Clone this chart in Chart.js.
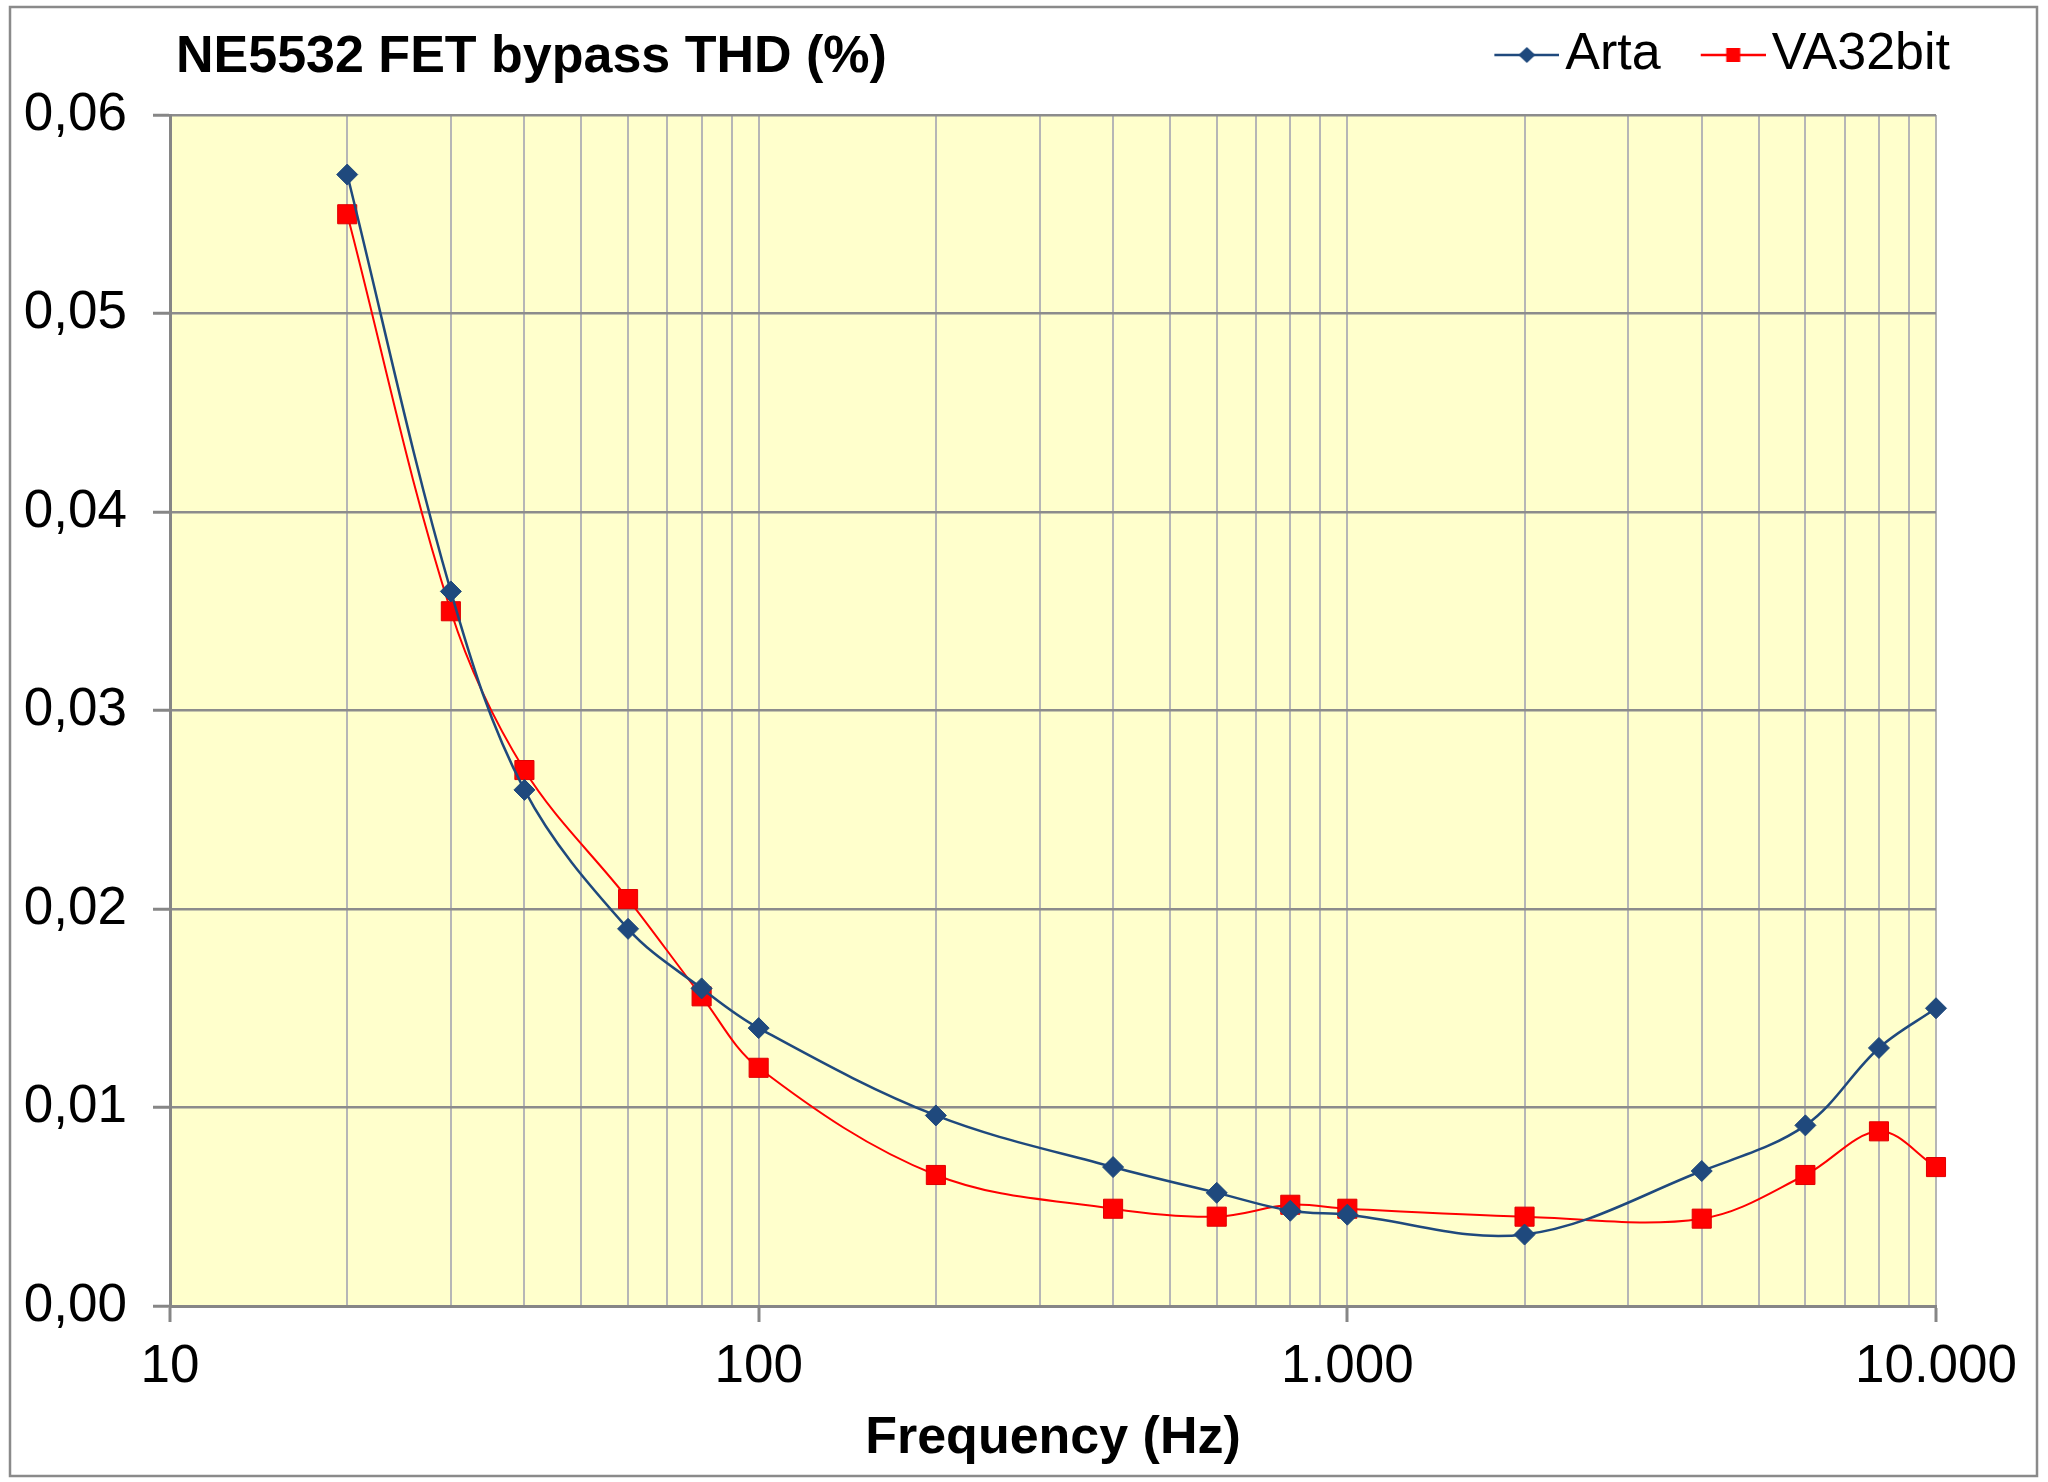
<!DOCTYPE html>
<html>
<head>
<meta charset="utf-8">
<script src="https://cdn.jsdelivr.net/npm/chart.js@4/dist/chart.umd.min.js"></script>
<style>
  html, body { margin: 0; padding: 0; background: #ffffff; }
  #wrap { width: 2048px; height: 1482px; }
  canvas { display: block; }
</style>
</head>
<body>
<div id="wrap"><canvas id="c" width="2048" height="1482"></canvas></div>
<script>
// ---- data ----
const chartTitle = 'NE5532 FET bypass THD (%)';
const xAxisTitle = 'Frequency (Hz)';
const frequencies = [20, 30, 40, 60, 80, 100, 200, 400, 600, 800, 1000, 2000, 4000, 6000, 8000, 10000];
const artaValues = [0.057, 0.036, 0.026, 0.019, 0.016, 0.014, 0.0096, 0.0070, 0.0057, 0.0048, 0.0046, 0.0036, 0.0068, 0.0091, 0.0130, 0.0150];
const va32Values = [0.055, 0.035, 0.027, 0.0205, 0.0156, 0.0120, 0.0066, 0.0049, 0.0045, 0.0051, 0.0049, 0.0045, 0.0044, 0.0066, 0.0088, 0.0070];
const seriesNames = ['Arta', 'VA32bit'];
const xTickValues = [10, 100, 1000, 10000];
const xTickLabels = ['10', '100', '1.000', '10.000'];
const xGridValues = [10, 20, 30, 40, 50, 60, 70, 80, 90,
                     100, 200, 300, 400, 500, 600, 700, 800, 900,
                     1000, 2000, 3000, 4000, 5000, 6000, 7000, 8000, 9000, 10000];
const yTickValues = [0, 0.01, 0.02, 0.03, 0.04, 0.05, 0.06];
const yTickLabels = ['0,00', '0,01', '0,02', '0,03', '0,04', '0,05', '0,06'];

// ---- styles ----
const FONT = "'Liberation Sans', Arial, sans-serif";
const ARTA_COLOR = '#1F497D';
const VA_COLOR = '#FF0000';
const PLOT_BG = '#FFFFCC';
const LEGEND_SIZE = 52;

function legendIcon(kind, color) {
  const c = document.createElement('canvas');
  c.width = 85; c.height = 24;
  const g = c.getContext('2d');
  g.strokeStyle = color; g.lineWidth = 2.5;
  g.beginPath(); g.moveTo(20, 12); g.lineTo(85, 12); g.stroke();
  g.fillStyle = color;
  const cx = 52.5, cy = 12;
  g.beginPath();
  if (kind === 'diamond') {
    g.moveTo(cx - 8.5, cy); g.lineTo(cx, cy - 8); g.lineTo(cx + 8.5, cy); g.lineTo(cx, cy + 8); g.closePath();
  } else {
    g.rect(cx - 7, cy - 7, 14, 14);
  }
  g.fill();
  return c;
}
const legendIcons = [legendIcon('diamond', ARTA_COLOR), legendIcon('square', VA_COLOR)];

const framePlugin = {
  id: 'frame',
  beforeDraw(chart) {
    const ctx = chart.ctx, a = chart.chartArea;
    ctx.save();
    ctx.fillStyle = '#ffffff';
    ctx.fillRect(0, 0, chart.width, chart.height);
    ctx.strokeStyle = '#8a8a8a';
    ctx.lineWidth = 2.5;
    ctx.strokeRect(10, 7, 2027, 1469);
    ctx.fillStyle = PLOT_BG;
    ctx.fillRect(a.left, a.top, a.right - a.left, a.bottom - a.top);
    ctx.restore();
  },
  afterLayout(chart) {
    const lg = chart.legend;
    if (lg) {
      lg.top -= 24; lg.bottom -= 24;
      lg.left += 54; lg.right += 54;
    }
  },
  afterDraw(chart) {
    const ctx = chart.ctx;
    ctx.save();
    ctx.font = 'bold 52px ' + FONT;
    ctx.fillStyle = '#000000';
    ctx.textBaseline = 'middle';
    ctx.textAlign = 'left';
    ctx.fillText(chartTitle, 176, 58);
    ctx.restore();
  }
};

const chart = new Chart(document.getElementById('c'), {
  type: 'line',
  data: {
    datasets: [
      {
        label: seriesNames[0],
        data: frequencies.map((f, i) => ({x: f, y: artaValues[i]})),
        borderColor: ARTA_COLOR,
        backgroundColor: ARTA_COLOR,
        borderWidth: 2.5,
        tension: 0.35,
        pointStyle: 'rectRot',
        pointRadius: 10.5,
        pointBackgroundColor: ARTA_COLOR,
        pointBorderColor: ARTA_COLOR,
        pointBorderWidth: 1,
        clip: false
      },
      {
        label: seriesNames[1],
        data: frequencies.map((f, i) => ({x: f, y: va32Values[i]})),
        borderColor: VA_COLOR,
        backgroundColor: VA_COLOR,
        borderWidth: 2,
        tension: 0.35,
        pointStyle: 'rect',
        pointRadius: 13.5,
        pointBackgroundColor: VA_COLOR,
        pointBorderColor: '#E00000',
        pointBorderWidth: 1,
        clip: false
      }
    ]
  },
  options: {
    responsive: false,
    animation: false,
    devicePixelRatio: 1,
    layout: { padding: { top: 13, right: 112, bottom: 0, left: 0 } },
    plugins: {
      title: { display: false },
      tooltip: { enabled: false },
      legend: {
        display: true,
        position: 'top',
        align: 'end',
        labels: {
          usePointStyle: true,
          pointStyleWidth: 45,
          padding: 40,
          color: '#000000',
          font: { family: FONT, size: LEGEND_SIZE },
          generateLabels: (ch) => ch.data.datasets.map((ds, i) => ({
            text: ds.label,
            pointStyle: legendIcons[i],
            fillStyle: ds.borderColor,
            strokeStyle: ds.borderColor,
            lineWidth: 0,
            hidden: false,
            datasetIndex: i,
            fontColor: '#000000'
          }))
        }
      }
    },
    scales: {
      x: {
        type: 'logarithmic',
        min: 10,
        max: 10000,
        afterBuildTicks: (s) => { s.ticks = xGridValues.map(v => ({value: v, major: xTickValues.includes(v)})); },
        afterFit: (s) => { s.height = 176; s.paddingRight = 0; s.paddingLeft = 0; },
        ticks: {
          autoSkip: false,
          maxRotation: 0,
          minRotation: 0,
          padding: 14,
          color: '#000000',
          font: { family: FONT, size: 53 },
          callback: (v) => {
            const k = xTickValues.findIndex(t => Math.abs(t - v) < 1e-6);
            return k >= 0 ? xTickLabels[k] : '';
          }
        },
        grid: {
          display: true,
          drawOnChartArea: true,
          drawTicks: true,
          tickLength: 16,
          lineWidth: 2,
          color: '#b6b6b6',
          tickWidth: 3,
          tickColor: (c) => (c.tick && xTickValues.includes(c.tick.value)) ? '#868686' : 'rgba(0,0,0,0)'
        },
        border: { display: true, color: '#868686', width: 3 },
        title: {
          display: true,
          text: xAxisTitle,
          color: '#000000',
          font: { family: FONT, size: 52, weight: 'bold' },
          padding: { top: 0, bottom: 12 }
        }
      },
      y: {
        type: 'linear',
        min: 0,
        max: 0.06,
        afterBuildTicks: (s) => { s.ticks = yTickValues.map(v => ({value: v})); },
        afterFit: (s) => { s.width = 170; },
        ticks: {
          padding: 26,
          color: '#000000',
          font: { family: FONT, size: 53 },
          callback: (v) => {
            const k = yTickValues.findIndex(t => Math.abs(t - v) < 1e-9);
            return k >= 0 ? yTickLabels[k] : '';
          }
        },
        grid: {
          display: true,
          lineWidth: 2.5,
          color: '#8c8c8c',
          tickLength: 17,
          tickColor: '#868686',
          tickWidth: 3
        },
        border: { display: true, color: '#868686', width: 3 }
      }
    }
  },
  plugins: [framePlugin]
});
</script>
</body>
</html>
